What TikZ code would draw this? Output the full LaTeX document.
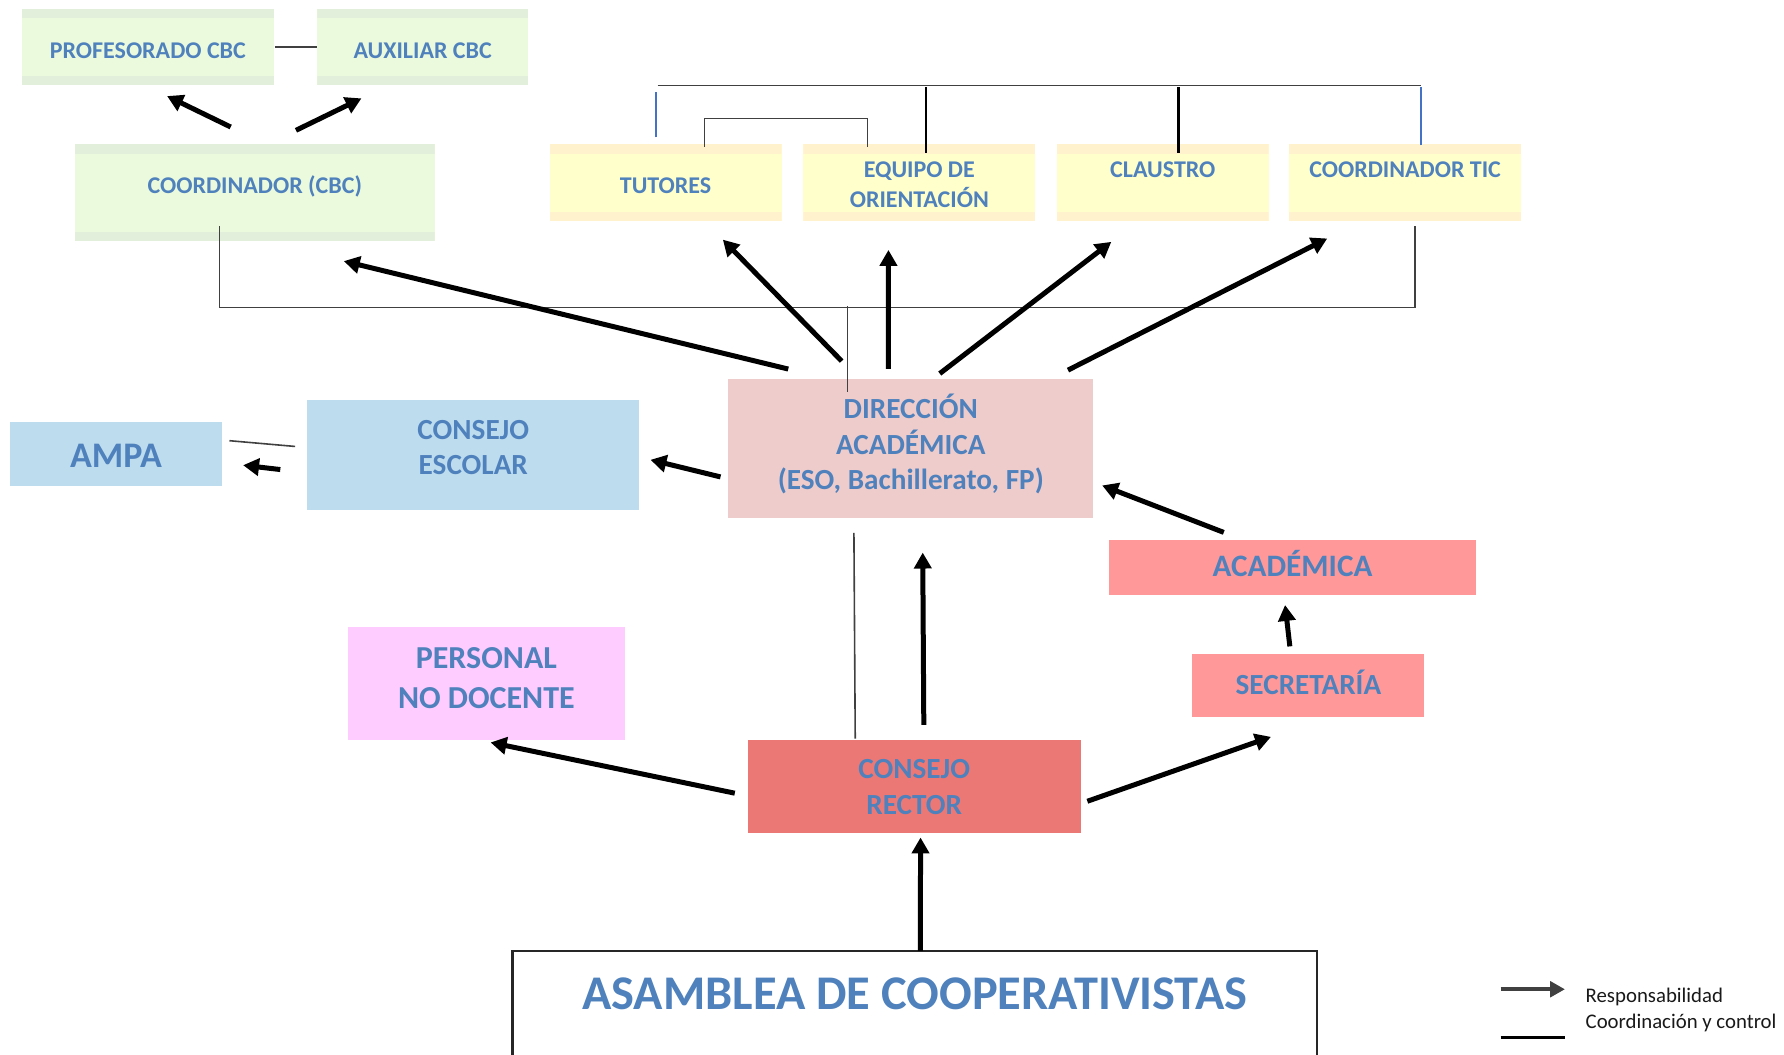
\documentclass[tikz,border=0pt]{standalone}
\usepackage{fontspec}
\setmainfont{Carlito}
\usetikzlibrary{arrows.meta,calc}

\definecolor{orgblue}{HTML}{4F81BD}
\definecolor{cbcgreen}{HTML}{EBFADC}
\definecolor{cbcband}{HTML}{E2EFDA}
\definecolor{staffyellow}{HTML}{FFFFCC}
\definecolor{staffband}{HTML}{FFF2CC}
\definecolor{escolarblue}{HTML}{BDDCEE}
\definecolor{dirpink}{HTML}{EECCCB}
\definecolor{salmon}{HTML}{FF9999}
\definecolor{rectorred}{HTML}{EB7874}
\definecolor{lilac}{HTML}{FFCCFF}
\definecolor{tieblue}{HTML}{4472C4}
\definecolor{legendgray}{HTML}{404040}

\tikzset{
  plate/.style={rectangle, inner sep=0pt, fill=#1},
  banded/.style 2 args={plate=#1, path picture={
      \fill[#2] (path picture bounding box.north west) rectangle ([yshift=-0.8mm]path picture bounding box.north east);
      \fill[#2] (path picture bounding box.south west) rectangle ([yshift=0.8mm]path picture bounding box.south east);}},
  orgtxt/.style={text=orgblue, align=center, inner sep=0pt},
  smalltxt/.style={orgtxt, font=\bfseries\fontsize{6}{7.4}\selectfont},
  midtxt/.style={orgtxt, font=\bfseries\fontsize{7.3}{8.9}\selectfont},
  resp/.style={-{Triangle[length=1.4mm,width=1.5mm]}, line width=1.25pt},
  coord/.style={line width=0.4pt, black!75},
  tie/.style={line width=0.6pt, tieblue},
  legtxt/.style={inner sep=0pt, anchor=west, text=black!90, font=\fontsize{5.2}{6}\selectfont},
}

\begin{document}
\begin{tikzpicture}[x=0.1mm, y=-0.1mm]
  \useasboundingbox (0,0) rectangle (1568,927);

  % CBC
  \node[banded={cbcgreen}{cbcband}, minimum width=22.2mm, minimum height=6.7mm,
        label={[smalltxt,yshift=-0.3mm]center:PROFESORADO CBC}] (prof) at (130,41.5) {};
  \node[banded={cbcgreen}{cbcband}, minimum width=18.5mm, minimum height=6.7mm,
        label={[smalltxt,yshift=-0.3mm]center:AUXILIAR CBC}] (aux) at (371.5,41.5) {};
  \node[banded={cbcgreen}{cbcband}, minimum width=31.6mm, minimum height=8.5mm,
        label={[smalltxt,yshift=0.55mm]center:COORDINADOR (CBC)}] (cbc) at (224,169.5) {};

  % Claustro y equipos
  \node[banded={staffyellow}{staffband}, minimum width=20.4mm, minimum height=6.7mm,
        label={[smalltxt,yshift=-0.3mm]center:TUTORES}] (tut) at (585,160.5) {};
  \node[banded={staffyellow}{staffband}, minimum width=20.4mm, minimum height=6.7mm,
        label={[smalltxt,yshift=-0.2mm]center:EQUIPO DE\\ORIENTACIÓN}] (eqo) at (808,160.5) {};
  \node[banded={staffyellow}{staffband}, minimum width=18.6mm, minimum height=6.7mm,
        label={[smalltxt,yshift=1.1mm]center:CLAUSTRO}] (cla) at (1022,160.5) {};
  \node[banded={staffyellow}{staffband}, minimum width=20.4mm, minimum height=6.7mm,
        label={[smalltxt,yshift=1.1mm]center:COORDINADOR TIC}] (tic) at (1235,160.5) {};

  % Direccion y consejo escolar
  \node[plate=escolarblue, minimum width=18.6mm, minimum height=5.6mm,
        label={[orgtxt,font=\bfseries\fontsize{9}{10}\selectfont,yshift=-0.2mm]center:AMPA}] (ampa) at (102,399) {};
  \node[plate=escolarblue, minimum width=29.2mm, minimum height=9.6mm,
        label={[midtxt,yshift=0.65mm]center:CONSEJO\\ESCOLAR}] (ces) at (416,400) {};
  \node[plate=dirpink, minimum width=32.1mm, minimum height=12.2mm,
        label={[midtxt,yshift=0.35mm]center:DIRECCIÓN\\ACADÉMICA\\(ESO, Bachillerato, FP)}] (dir) at (800.5,394) {};

  % Gestion
  \node[plate=salmon, minimum width=32.2mm, minimum height=4.8mm,
        label={[orgtxt,font=\bfseries\fontsize{7.8}{9}\selectfont,yshift=0.35mm]center:ACADÉMICA}] (aca) at (1136,499) {};
  \node[plate=salmon, minimum width=20.4mm, minimum height=5.5mm,
        label={[midtxt,yshift=0.25mm]center:SECRETARÍA}] (sec) at (1150,602.5) {};
  \node[plate=lilac, minimum width=24.3mm, minimum height=9.9mm,
        label={[orgtxt,font=\bfseries\fontsize{8}{10.2}\selectfont,yshift=0.45mm]center:PERSONAL\\NO DOCENTE}] (pnd) at (427.5,600.5) {};
  \node[plate=rectorred, minimum width=29.3mm, minimum height=8.2mm,
        label={[midtxt,yshift=-0.1mm]center:CONSEJO\\RECTOR}] (rec) at (803.5,691) {};

  % Asamblea
  \node[rectangle, inner sep=0pt, minimum width=70.6mm, minimum height=9.05mm,
        label={[orgtxt,font=\bfseries\fontsize{12.1}{14.5}\selectfont,yshift=0.85mm]center:ASAMBLEA DE COOPERATIVISTAS}] (asa) at (804,881.75) {};
  \draw[line width=0.6pt, black!85] (asa.south west) -- (asa.north west) -- (asa.north east) -- (asa.south east);

  % Coordinacion y control
  \draw[coord] (prof.east) -- (aux.west);
  \draw[coord] ([yshift=1.4mm]$(cbc.south west)!.402!(cbc.south east)$) -- ++(0,71.5)
        -| ([yshift=-0.38mm]$(tic.south west)!.542!(tic.south east)$);
  \draw[coord] ([yshift=-1.2mm]$(dir.north west)!.327!(dir.north east)$) -- ++(0,-75.5);
  \draw[coord] ([yshift=-1.26mm]$(dir.south west)!.345!(dir.south east)$) -- ($(rec.north west)!.324!(rec.north east)$);
  \draw[coord, shorten <=1mm, shorten >=0.6mm] ($(ces.north west)!.431!(ces.south west)$) -- ($(ampa.north east)!.288!(ampa.south east)$);

  \coordinate (tiesL) at ($(tut.north west)!.466!(tut.north east)$);
  \coordinate (tiesR) at ($(tic.north west)!.569!(tic.north east)$);
  \draw[coord] ([yshift=5.1mm]tiesL) -- ([yshift=5.1mm]tiesR);
  \draw[line width=0.6pt] ([yshift=-0.78mm]$(eqo.north west)!.528!(eqo.north east)$) -- ++(0,-58);
  \draw[line width=0.6pt] ([yshift=-0.78mm]$(cla.north west)!.573!(cla.north east)$) -- ++(0,-58);
  \draw[coord] ([yshift=-0.25mm]$(tut.north west)!.667!(tut.north east)$) -- ++(0,-24.5)
        -| ([yshift=-0.25mm]$(eqo.north west)!.279!(eqo.north east)$);
  \draw[tie] ([shift={(-0.15mm,0.55mm)}]tiesL) -- ++(0,-40);
  \draw[tie] ([yshift=-0.13mm]tiesR) -- ++(0,-50.7);

  % Responsabilidad
  \draw[resp, shorten <=3.35mm, shorten >=7.13mm] ($(dir.north west)!.267!(dir.north east)$) -- ($(cbc.south west)!.528!(cbc.south east)$);
  \draw[resp, shorten <=2.09mm, shorten >=2.23mm] ($(dir.north west)!.357!(dir.north east)$) -- ($(tut.south west)!.669!(tut.south east)$);
  \draw[resp, shorten <=0.8mm, shorten >=2.5mm] ($(dir.north west)!.439!(dir.north east)$) -- ($(eqo.south west)!.368!(eqo.south east)$);
  \draw[resp, shorten <=0.65mm, shorten >=2.94mm] ($(dir.north west)!.563!(dir.north east)$) -- ($(cla.south west)!.383!(cla.south east)$);
  \draw[resp, shorten <=1.54mm, shorten >=3.3mm] ($(dir.north west)!.886!(dir.north east)$) -- ($(tic.south west)!.31!(tic.south east)$);
  \draw[resp, shorten <=3.35mm, shorten >=2mm] ($(cbc.north west)!.528!(cbc.north east)$) -- ($(prof.south west)!.495!(prof.south east)$);
  \draw[resp, shorten <=2.68mm, shorten >=2.46mm] ($(cbc.north west)!.538!(cbc.north east)$) -- ($(aux.south west)!.33!(aux.south east)$);
  \draw[resp, shorten <=0.62mm, shorten >=0.93mm] ($(dir.north west)!.716!(dir.south west)$) -- ($(ces.north east)!.52!(ces.south east)$);
  \draw[resp, shorten <=2.31mm, shorten >=1.81mm] ($(ces.north west)!.658!(ces.south west)$) -- ($(ampa.north east)!.636!(ampa.south east)$);
  \draw[resp, shorten <=1.76mm, shorten >=0.75mm] ($(aca.north west)!.364!(aca.north east)$) -- ($(dir.north east)!.743!(dir.south east)$);
  \draw[resp, shorten <=0.62mm, shorten >=0.81mm] ($(sec.north west)!.424!(sec.north east)$) -- ($(aca.south west)!.477!(aca.south east)$);
  \draw[resp, shorten <=1.22mm, shorten >=3mm] ($(rec.north west)!.529!(rec.north east)$) -- ($(dir.south west)!.532!(dir.south east)$);
  \draw[resp, shorten <=1.07mm, shorten >=0.93mm] ($(rec.north west)!.6!(rec.south west)$) -- ($(pnd.south west)!.478!(pnd.south east)$);
  \draw[resp, shorten <=0.53mm, shorten >=5.12mm] ($(rec.north east)!.68!(rec.south east)$) -- ($(sec.south west)!.575!(sec.south east)$);
  \draw[resp, shorten >=0.34mm] ($(asa.north west)!.507!(asa.north east)$) -- ($(rec.south west)!.519!(rec.south east)$);

  % Leyenda
  \node[legtxt] (lgresp) at (1393,876) {Responsabilidad};
  \node[legtxt] (lgcoord) at (1393,899) {Coordinación y control};
  \draw[-{Triangle[length=1.3mm,width=1.35mm]}, line width=1pt, legendgray] ($(lgresp.west)+(-74,-6.5)$) -- ++(56.5,0);
  \draw[line width=0.65pt] ($(lgcoord.west)+(-74,12.7)$) -- ++(56.5,0);
\end{tikzpicture}
\end{document}
